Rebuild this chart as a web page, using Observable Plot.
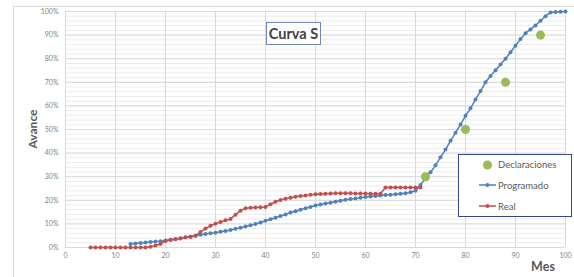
<!DOCTYPE html>
<html>
<head>
<meta charset="utf-8">
<script src="https://cdn.jsdelivr.net/npm/d3@7"></script>
<script src="https://cdn.jsdelivr.net/npm/@observablehq/plot@0.6"></script>
<style>
  html, body { margin: 0; padding: 0; background: #fff; }
  #wrap { position: relative; width: 574px; height: 277px; overflow: hidden; background: #fff; font-family: Lato, "Open Sans", sans-serif; }
  #frame { position: absolute; left: 13px; top: 6px; width: 620px; height: 320px; border: 1px solid #d9d9d9; }
  #chart { position: absolute; left: 0; top: 0; }
  #title { position: absolute; left: 266px; top: 22px; width: 53px; height: 21px; border: 1px solid #6f88b8; background: #fff;
           font: bold 14.5px Lato, sans-serif; color: #404040; display: flex; align-items: center; justify-content: center; white-space: nowrap; }
  #ylab { position: absolute; left: 32px; top: 129px; transform: translate(-50%, -50%) rotate(-90deg); font: bold 12px Lato, sans-serif; color: #595959; white-space: nowrap; }
  #xlab { position: absolute; left: 543px; top: 266px; transform: translate(-50%, -50%); font: bold 12.5px Lato, sans-serif; color: #595959; white-space: nowrap; }
  #legend { position: absolute; left: 458px; top: 154px; width: 112px; height: 61px; border: 1px solid #2f4a86; background: #fff; }
  .item { position: absolute; left: 20px; height: 12px; display: flex; align-items: center; font: 9.5px Lato, sans-serif; color: #595959; white-space: nowrap; }
  .item svg { margin-right: 1px; }
</style>
</head>
<body>
<div id="wrap">
  <div id="frame"></div>
  <div id="chart"></div>
  <div id="title">Curva S</div>
  <div id="ylab">Avance</div>
  <div id="xlab">Mes</div>
  <div id="legend"></div>
</div>
<script>
// ---- Data ----
const mesesReal = d3.range(5, 72);
const avanceReal = [
  0, 0, 0, 0, 0, 0, 0, 0, 0, 0, 0, 0,          // 5-16
  0.3, 0.8, 1.5, 2.8, 3.2, 3.5, 3.8, 4.3, 4.6, 5.0, // 17-26
  6.6, 8.0, 9.2, 10.1, 10.8, 11.5, 12.1, 13.9, 15.6, 16.6, // 27-36
  16.8, 17.0, 17.1, 17.2, 18.3, 19.4, 20.1, 20.7, 21.1, 21.5, // 37-46
  21.8, 22.0, 22.3, 22.6, 22.7, 22.8, 22.9, 23.0, 23.0, 23.0, // 47-56
  23.0, 22.9, 22.9, 22.9, 22.8, 22.8, 22.8,                   // 57-63
  25.4, 25.4, 25.4, 25.4, 25.4, 25.4, 25.4, 25.4              // 64-71
];
const mesesProg = d3.range(13, 101);
const avanceProg = [
  1.5, 1.7, 1.9, 2.1, 2.3, 2.5, 2.7, 3.0,          // 13-20
  3.3, 3.6, 3.9, 4.2, 4.6, 5.0, 5.4, 5.7, 6.0, 6.3, // 21-30
  6.7, 7.0, 7.4, 7.9, 8.4, 8.9, 9.4, 10.0, 10.6, 11.3, // 31-40
  12.0, 12.6, 13.3, 14.0, 14.8, 15.4, 16.0, 16.6, 17.2, 17.8, // 41-50
  18.2, 18.6, 19.0, 19.4, 19.8, 20.2, 20.5, 20.8, 21.1, 21.4, // 51-60
  21.6, 21.8, 22.0, 22.2, 22.4, 22.6, 22.8, 23.0, 23.4, 24.0, // 61-70
  26.5, 29.5, 31.9, 34.8, 38.2, 41.5, 45.2, 48.6, 52.1, 55.8, // 71-80
  59.0, 62.7, 66.3, 70.0, 72.7, 75.1, 77.5, 80.0, 82.7, 85.5, // 81-90
  88.3, 90.8, 92.4, 94.1, 96.1, 98.0, 99.6, 99.8, 99.9, 100.0 // 91-100
];
const mesesDecl = [72, 80, 88, 95];
const avanceDecl = [30, 50, 70, 90];
const xTicks = [0, 10, 20, 30, 40, 50, 60, 70, 80, 90, 100];
const yTicks = [0, 10, 20, 30, 40, 50, 60, 70, 80, 90, 100];
const yMinor = d3.range(0, 101, 2);

const real = mesesReal.map((m, i) => ({mes: m, v: avanceReal[i] / 100}));
const prog = mesesProg.map((m, i) => ({mes: m, v: avanceProg[i] / 100}));
const decl = mesesDecl.map((m, i) => ({mes: m, v: avanceDecl[i] / 100}));

const cBlue = "#4f81bd", cRed = "#c0504d", cGreen = "#9bbb59";

const chart = Plot.plot({
  width: 574,
  height: 277,
  marginLeft: 65,
  marginRight: 9,
  marginTop: 11,
  marginBottom: 30,
  style: {fontFamily: "Lato, sans-serif", background: "transparent", overflow: "visible"},
  x: {domain: [0, 100]},
  y: {domain: [0, 1]},
  marks: [
    Plot.gridY(yMinor.map(d => d / 100), {stroke: "#ececec", strokeOpacity: 1, strokeWidth: 1}),
    Plot.gridY(yTicks.map(d => d / 100), {stroke: "#d9d9d9", strokeOpacity: 1, strokeWidth: 1}),
    Plot.gridX(xTicks, {stroke: "#d9d9d9", strokeOpacity: 1, strokeWidth: 1}),
    Plot.axisY(yTicks.map(d => d / 100), {tickFormat: d3.format(".0%"), tickSize: 0, tickPadding: 7, fontSize: 7, fill: "#7f7f7f", label: null}),
    Plot.axisX(xTicks, {tickSize: 0, tickPadding: 6, fontSize: 7, fill: "#7f7f7f", label: null}),
    Plot.line(prog, {x: "mes", y: "v", stroke: cBlue, strokeWidth: 1.5}),
    Plot.dot(prog, {x: "mes", y: "v", fill: cBlue, r: 2}),
    Plot.line(real, {x: "mes", y: "v", stroke: cRed, strokeWidth: 1.5}),
    Plot.dot(real, {x: "mes", y: "v", fill: cRed, r: 2}),
    Plot.dot(decl, {x: "mes", y: "v", fill: cGreen, r: 4.5})
  ]
});
document.getElementById("chart").appendChild(chart);

// ---- Legend ----
const legendItems = [
  {label: "Declaraciones", color: cGreen, line: false},
  {label: "Programado", color: cBlue, line: true},
  {label: "Real", color: cRed, line: true}
];
const leg = document.getElementById("legend");
legendItems.forEach((it, i) => {
  const div = document.createElement("div");
  div.className = "item";
  div.style.top = (3.5 + i * 20.8) + "px";
  const sw = it.line
    ? `<svg width="17" height="8"><line x1="0" y1="4" x2="17" y2="4" stroke="${it.color}" stroke-width="1.5"/><circle cx="8.5" cy="4" r="2" fill="${it.color}"/></svg>`
    : `<svg width="17" height="10"><circle cx="8.5" cy="5" r="4.5" fill="${it.color}"/></svg>`;
  div.innerHTML = sw + `<span style="margin-left:${it.line ? 1 : 1}px">${it.label}</span>`;
  leg.appendChild(div);
});
</script>
</body>
</html>
